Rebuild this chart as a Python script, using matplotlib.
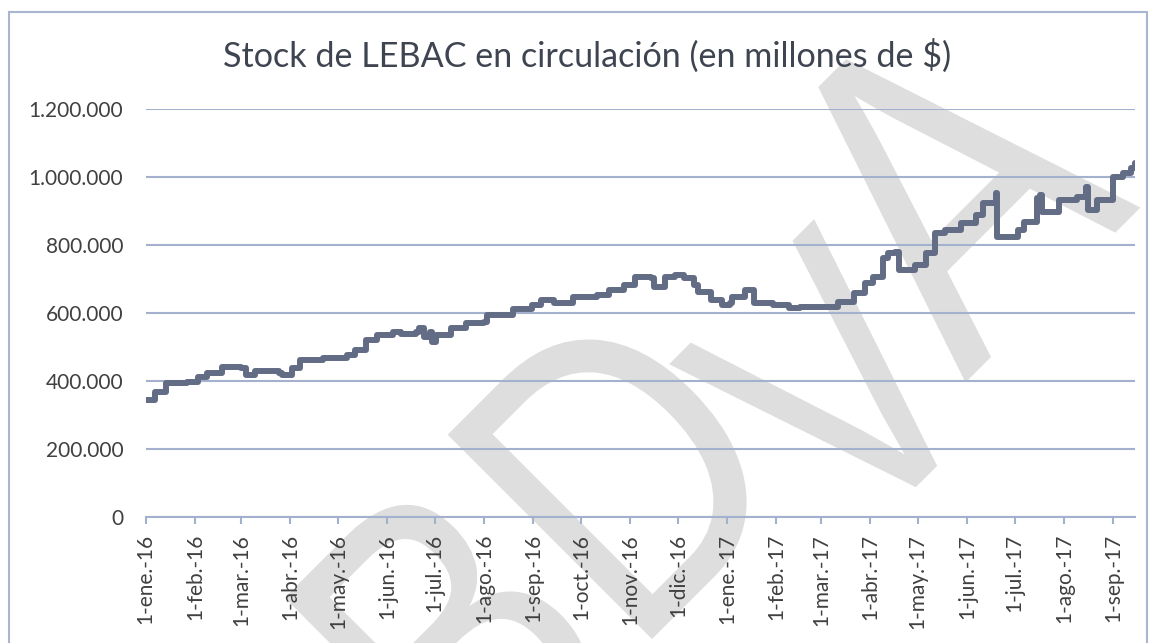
import matplotlib.pyplot as plt
from matplotlib.font_manager import FontProperties
from matplotlib.patches import Rectangle, PathPatch
from matplotlib.textpath import TextPath
from matplotlib.ticker import FuncFormatter
from matplotlib.transforms import Affine2D
import pandas as pd

# LEBAC stock (millones de $)
dates = [
    "2016-01-01", "2016-01-05", "2016-01-07", "2016-01-12", "2016-01-14", "2016-01-27",
    "2016-02-03", "2016-02-09", "2016-02-18", "2016-03-01", "2016-03-04", "2016-03-10",
    "2016-03-25", "2016-03-27", "2016-04-02", "2016-04-07", "2016-04-22", "2016-05-07",
    "2016-05-12", "2016-05-19", "2016-05-26", "2016-06-05", "2016-06-10", "2016-06-19",
    "2016-06-21", "2016-06-24", "2016-06-28", "2016-06-29", "2016-07-02", "2016-07-11",
    "2016-07-21", "2016-08-01", "2016-08-03", "2016-08-19", "2016-08-31", "2016-09-06",
    "2016-09-14", "2016-09-26", "2016-10-11", "2016-10-19", "2016-10-28", "2016-11-04",
    "2016-11-14", "2016-11-16", "2016-11-23", "2016-11-29", "2016-12-05", "2016-12-11",
    "2016-12-14", "2016-12-22", "2016-12-29", "2017-01-03", "2017-01-04", "2017-01-12",
    "2017-01-17", "2017-01-18", "2017-01-30", "2017-02-09", "2017-02-16", "2017-03-03",
    "2017-03-12", "2017-03-22", "2017-03-29", "2017-04-03", "2017-04-09", "2017-04-12",
    "2017-04-17", "2017-04-19", "2017-04-29", "2017-05-06", "2017-05-12", "2017-05-18",
    "2017-05-28", "2017-06-07", "2017-06-11", "2017-06-19", "2017-06-20", "2017-07-03",
    "2017-07-07", "2017-07-15", "2017-07-17", "2017-07-18", "2017-07-29", "2017-08-09",
    "2017-08-15", "2017-08-16", "2017-08-22", "2017-09-01", "2017-09-07", "2017-09-12",
    "2017-09-15",
]
stock = [
    345000, 345000, 369000, 369000, 394000, 399000,
    414000, 424000, 443000, 438000, 418000, 430000,
    424000, 418000, 438000, 463000, 468000, 477000,
    492000, 521000, 536000, 546000, 539000, 546000,
    556000, 531000, 546000, 516000, 536000, 556000,
    571000, 575000, 595000, 612000, 624000, 639000,
    629000, 649000, 654000, 669000, 683000, 708000,
    703000, 678000, 708000, 713000, 705000, 683000,
    664000, 639000, 624000, 629000, 649000, 669000,
    669000, 629000, 624000, 615000, 619000, 619000,
    634000, 659000, 688000, 708000, 762000, 776000,
    781000, 727000, 742000, 776000, 835000, 845000,
    865000, 889000, 923000, 953000, 825000, 845000,
    869000, 938000, 948000, 899000, 933000, 943000,
    972000, 904000, 933000, 1002000, 1012000, 1027000,
    1041000,
]

meses = ["ene.", "feb.", "mar.", "abr.", "may.", "jun.",
         "jul.", "ago.", "sep.", "oct.", "nov.", "dic."]
tick_dates = pd.date_range("2016-01-01", "2017-09-01", freq="MS")
tick_labels = [f"1-{meses[d.month - 1]}-{d.strftime('%y')}" for d in tick_dates]

title = "Stock de LEBAC en circulación (en millones de $)"

grid_col = "#a3b1cf"
text_col = "#404040"
line_col = "#626c85"

plt.rcParams["font.family"] = ["Lato", "DejaVu Sans"]

W, H = 1155, 643
fig = plt.figure(figsize=(W / 100, H / 100), dpi=100)
ax = fig.add_axes([0.126, 0.1955, 0.857, 0.6345])
ax.patch.set_alpha(0)

# watermark "BDVA": narrow letters tilted 45 deg, placed one by one in pixels
# (letter, baseline-left x, y from top, size)
wm_font = FontProperties(family="Liberation Sans")
for ch, px, py, size in [("B", 469, 822, 420), ("D", 632, 659, 420),
                         ("V", 853, 550, 380), ("A", 965, 383, 455)]:
    tp = TextPath((0, 0), ch, size=size, prop=wm_font)
    tr = Affine2D().scale(0.82, 1).rotate_deg(45).translate(px, H - py)
    fig.add_artist(PathPatch(tr.transform_path(tp), facecolor="#dedede",
                             edgecolor="none", transform=None, zorder=-5))

# outer chart border (bottom edge falls outside the picture)
fig.patches.append(Rectangle((9 / W, -0.05), 1138 / W, 1.05 - 12 / H,
                             transform=fig.transFigure, fill=False,
                             edgecolor="#a9b6d2", linewidth=1.5, zorder=-6))

x = pd.to_datetime(dates)
ax.plot(x, stock, color=line_col, linewidth=4.3, drawstyle="steps-post",
        solid_joinstyle="round", solid_capstyle="round", zorder=3)

ax.set_ylim(0, 1200000)
ax.set_yticks(range(0, 1200001, 200000))
ax.yaxis.set_major_formatter(FuncFormatter(lambda v, p: f"{int(v):,}".replace(",", ".")))
ax.set_xlim(pd.Timestamp("2016-01-01"), pd.Timestamp("2017-09-15"))
ax.set_xticks(tick_dates)
ax.set_xticklabels(tick_labels, rotation=90, ha="center", va="top")

ax.grid(axis="y", color=grid_col, linewidth=1.5)
ax.set_axisbelow(True)
for s in ["top", "right", "left"]:
    ax.spines[s].set_visible(False)
ax.spines["bottom"].set_color(grid_col)
ax.spines["bottom"].set_linewidth(1.5)
ax.tick_params(axis="y", length=0, pad=16, labelsize=15, labelcolor=text_col)
ax.tick_params(axis="x", length=5, width=1.5, color=grid_col, pad=7,
               labelsize=15, labelcolor=text_col)

fig.text(0.508, 0.896, title, ha="center", va="baseline", fontsize=24.6,
         color="#3f4550")

fig.savefig("out.png", dpi=100)
